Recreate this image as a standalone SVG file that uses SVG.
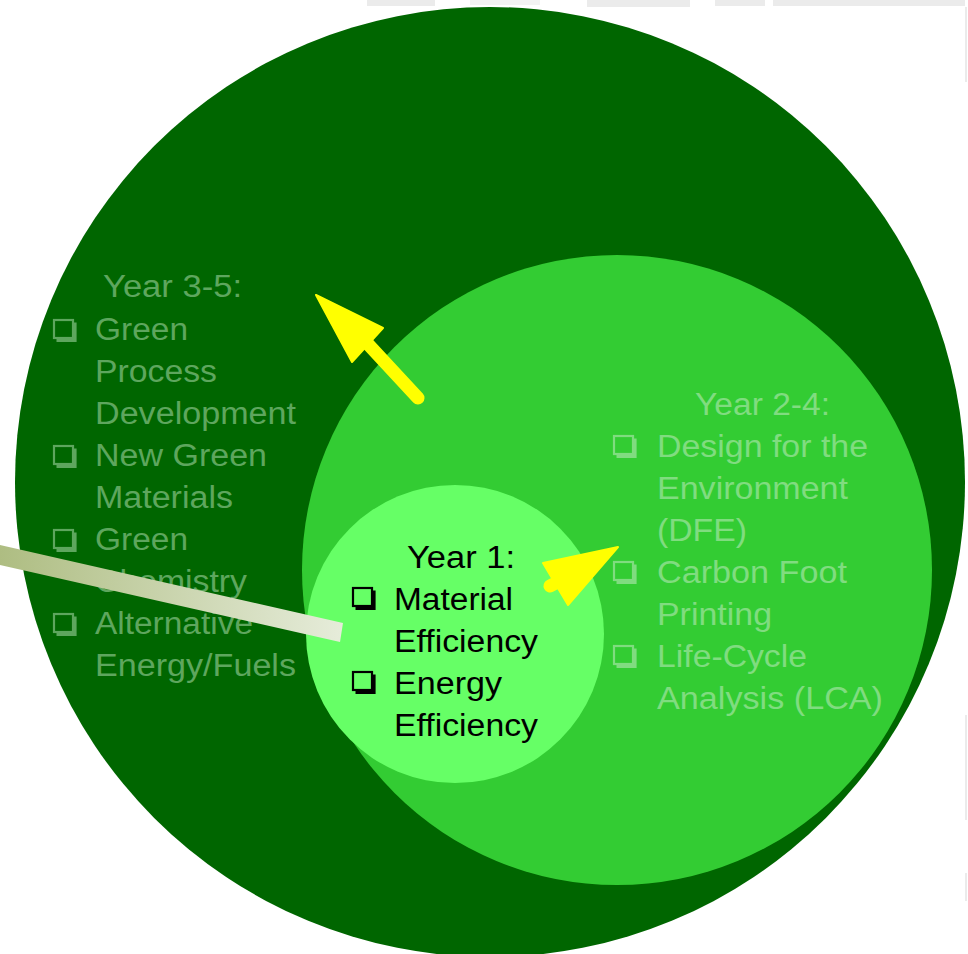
<svg xmlns="http://www.w3.org/2000/svg" xmlns:xlink="http://www.w3.org/1999/xlink" width="968" height="954" viewBox="0 0 968 954">
<style>
  text { font-family: "Liberation Sans", Arial, sans-serif; font-size: 31px; }
  .outer-txt { fill: #5ea65e; color: #5ea65e; }
  .mid-txt { fill: #80dc80; color: #80dc80; }
  .inner-txt { fill: #000000; color: #000000; }
  .arrow { fill: #ffff00; stroke: #ffff00; stroke-linejoin: round; }
</style>
<defs>
  <g id="bullet">
    <rect x="1" y="1" width="19" height="18" fill="none" stroke="currentColor" stroke-width="2.2"/>
    <path d="M22 3.5 V21.5 H3.5" fill="none" stroke="currentColor" stroke-width="3.2"/>
  </g>
  <linearGradient id="barGrad" x1="0" y1="0" x2="1" y2="0">
    <stop offset="0" stop-color="#aebd82"/>
    <stop offset="1" stop-color="#e6ecda"/>
  </linearGradient>
</defs>
<rect width="968" height="954" fill="#ffffff"/>
<g id="top-remnant" fill="#ebebeb">
  <rect x="367" y="0" width="68" height="6"/>
  <rect x="470" y="0" width="70" height="5" fill="#f3f3f3"/>
  <rect x="587" y="0" width="103" height="7"/>
  <rect x="715" y="0" width="50" height="6"/>
  <rect x="773" y="0" width="192" height="6"/>
  <rect x="965" y="7" width="2" height="75"/>
  <rect x="965" y="715" width="2" height="105"/>
  <rect x="965" y="873" width="2" height="28"/>
</g>
<g id="outer">
  <circle cx="490" cy="482" r="475" fill="#006600"/>
  <g class="outer-txt">
    <text x="103" y="297" textLength="139" lengthAdjust="spacingAndGlyphs">Year 3-5:</text>
    <use xlink:href="#bullet" x="53" y="319"/>
    <text x="95" y="340" textLength="93" lengthAdjust="spacingAndGlyphs">Green</text>
    <text x="95" y="382" textLength="122" lengthAdjust="spacingAndGlyphs">Process</text>
    <text x="95" y="424" textLength="201" lengthAdjust="spacingAndGlyphs">Development</text>
    <use xlink:href="#bullet" x="53" y="445"/>
    <text x="95" y="466" textLength="172" lengthAdjust="spacingAndGlyphs">New Green</text>
    <text x="95" y="508" textLength="138" lengthAdjust="spacingAndGlyphs">Materials</text>
    <use xlink:href="#bullet" x="53" y="529"/>
    <text x="95" y="550" textLength="93" lengthAdjust="spacingAndGlyphs">Green</text>
    <text x="95" y="592" textLength="152" lengthAdjust="spacingAndGlyphs">Chemistry</text>
    <use xlink:href="#bullet" x="53" y="613"/>
    <text x="95" y="634" textLength="158" lengthAdjust="spacingAndGlyphs">Alternative</text>
    <text x="95" y="676" textLength="201" lengthAdjust="spacingAndGlyphs">Energy/Fuels</text>
  </g>
</g>
<g id="middle">
  <circle cx="617" cy="570" r="315" fill="#33cc33"/>
  <g class="mid-txt">
    <text x="695" y="415" textLength="135" lengthAdjust="spacingAndGlyphs">Year 2-4:</text>
    <use xlink:href="#bullet" x="613" y="435"/>
    <text x="657" y="457" textLength="211" lengthAdjust="spacingAndGlyphs">Design for the</text>
    <text x="657" y="499" textLength="191" lengthAdjust="spacingAndGlyphs">Environment</text>
    <text x="657" y="541" textLength="90" lengthAdjust="spacingAndGlyphs">(DFE)</text>
    <use xlink:href="#bullet" x="613" y="561"/>
    <text x="657" y="583" textLength="190" lengthAdjust="spacingAndGlyphs">Carbon Foot</text>
    <text x="657" y="625" textLength="115" lengthAdjust="spacingAndGlyphs">Printing</text>
    <use xlink:href="#bullet" x="613" y="645"/>
    <text x="657" y="667" textLength="150" lengthAdjust="spacingAndGlyphs">Life-Cycle</text>
    <text x="657" y="709" textLength="226" lengthAdjust="spacingAndGlyphs">Analysis (LCA)</text>
  </g>
</g>
<g id="inner">
  <circle cx="455" cy="634" r="149" fill="#66ff66"/>
  <g class="inner-txt">
    <text x="407" y="568" textLength="108" lengthAdjust="spacingAndGlyphs">Year 1:</text>
    <use xlink:href="#bullet" x="352" y="587"/>
    <text x="394" y="610" textLength="119" lengthAdjust="spacingAndGlyphs">Material</text>
    <text x="394" y="652" textLength="144" lengthAdjust="spacingAndGlyphs">Efficiency</text>
    <use xlink:href="#bullet" x="352" y="671"/>
    <text x="394" y="694" textLength="108" lengthAdjust="spacingAndGlyphs">Energy</text>
    <text x="394" y="736" textLength="144" lengthAdjust="spacingAndGlyphs">Efficiency</text>
  </g>
</g>
<g id="connectors">
  <g id="arrow-up-left">
    <line x1="367" y1="343" x2="418" y2="398" stroke="#ffff00" stroke-width="13" stroke-linecap="round"/>
    <polygon class="arrow" stroke-width="2" points="316,295 383,328 352,362"/>
  </g>
  <g id="arrow-right">
    <line x1="550" y1="586" x2="565" y2="578" stroke="#ffff00" stroke-width="13" stroke-linecap="round"/>
    <polygon class="arrow" stroke-width="2" points="618,547 543,563 568,605"/>
  </g>
  <polygon id="bar" points="0,545 343,623 340,642 0,565" fill="url(#barGrad)"/>
</g>
</svg>
